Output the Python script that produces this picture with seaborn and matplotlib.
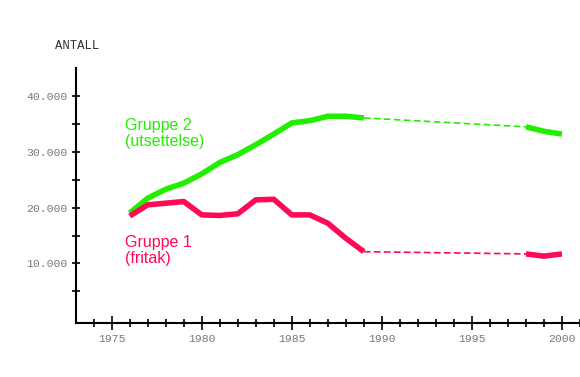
import matplotlib
matplotlib.use("Agg")
import matplotlib.pyplot as plt
import seaborn as sns
import pandas as pd
from matplotlib.ticker import FixedLocator, FuncFormatter

# ---- data ----
years_early = [1976, 1977, 1978, 1979, 1980, 1981, 1982, 1983, 1984, 1985, 1986, 1987, 1988, 1989]
gruppe2_early = [19050, 21700, 23300, 24400, 26060, 28100, 29500, 31300, 33200, 35200, 35600, 36400, 36400, 36100]
gruppe1_early = [18500, 20500, 20800, 21100, 18700, 18600, 18900, 21400, 21500, 18700, 18700, 17200, 14500, 12100]
years_late = [1998, 1999, 2000]
gruppe2_late = [34500, 33700, 33200]
gruppe1_late = [11700, 11300, 11700]

x_major = [1975, 1980, 1985, 1990, 1995, 2000]
x_minor = [y for y in range(1974, 2002) if y not in x_major]
y_major = [10000, 20000, 30000, 40000]
y_minor = [5000, 15000, 25000, 35000]

label_g2 = "Gruppe 2\n(utsettelse)"
label_g1 = "Gruppe 1\n(fritak)"
y_title = "ANTALL"

green = "#22ee00"
red = "#ff0a55"

sns.set_style("white")
plt.rcParams["font.family"] = ["Liberation Sans", "DejaVu Sans"]

fig = plt.figure(figsize=(5.8, 3.77), dpi=100)
ax = fig.add_axes([0.1305, 0.1432, 0.8695, 0.6756])

def seg(x, y):
    return pd.DataFrame({"year": x, "value": y})

for color, early, late in [(green, gruppe2_early, gruppe2_late), (red, gruppe1_early, gruppe1_late)]:
    d1 = seg(years_early, early)
    d2 = seg([years_early[-1], years_late[0]], [early[-1], late[0]])
    d3 = seg(years_late, late)
    sns.lineplot(data=d1, x="year", y="value", ax=ax, color=color, lw=4, solid_capstyle="butt")
    sns.lineplot(data=d2, x="year", y="value", ax=ax, color=color, lw=1.2)
    ax.lines[-1].set_dashes((4, 2))
    sns.lineplot(data=d3, x="year", y="value", ax=ax, color=color, lw=4, solid_capstyle="butt")

ax.set_xlim(1973, 2001.0)
ax.set_ylim(-700, 45000)
ax.set_xlabel("")
ax.set_ylabel("")

for s in ["top", "right"]:
    ax.spines[s].set_visible(False)
for s in ["left", "bottom"]:
    ax.spines[s].set_color("black")
    ax.spines[s].set_linewidth(1.5)

ax.xaxis.set_major_locator(FixedLocator(x_major))
ax.xaxis.set_minor_locator(FixedLocator(x_minor))
ax.yaxis.set_major_locator(FixedLocator(y_major))
ax.yaxis.set_minor_locator(FixedLocator(y_minor))
ax.xaxis.set_major_formatter(FuncFormatter(lambda v, p: f"{int(v)}"))
ax.yaxis.set_major_formatter(FuncFormatter(lambda v, p: f"{int(v):,}".replace(",", ".")))

ax.tick_params(axis="both", which="both", bottom=True, left=True)
ax.tick_params(axis="x", which="major", direction="inout", length=9.5, width=1.2, color="black",
               labelsize=8.2, labelcolor="#777777", pad=3)
ax.tick_params(axis="x", which="minor", direction="inout", length=6, width=1.2, color="black")
ax.tick_params(axis="y", which="both", direction="inout", length=6, width=1.2, color="black",
               labelsize=8.2, labelcolor="#777777", pad=3)
for lab in ax.get_xticklabels() + ax.get_yticklabels():
    lab.set_family(["Liberation Mono", "DejaVu Sans Mono"])

fig.text(55 / 580, 1 - 46 / 377, y_title, family=["Liberation Mono", "DejaVu Sans Mono"],
         fontsize=8.8, color="#333333", va="center", ha="left")

ax.text(1975.75, 33300, label_g2, color=green, fontsize=11.5, va="center", ha="left", linespacing=1.12)
ax.text(1975.75, 12300, label_g1, color=red, fontsize=11.5, va="center", ha="left", linespacing=1.12)

fig.savefig("out.png", dpi=100)
